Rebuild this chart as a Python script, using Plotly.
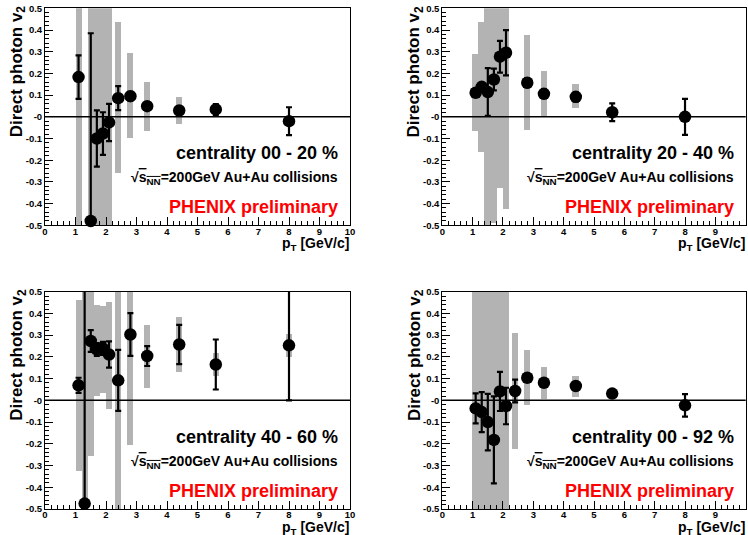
import plotly.graph_objects as go

W, H = 748, 535

# ---------------- data ----------------
titles = ["centrality 00 - 20 %", "centrality 20 - 40 %", "centrality 40 - 60 %", "centrality 00 - 92 %"]

pt_00_20 = [1.1, 1.5, 1.7, 1.9, 2.1, 2.4, 2.8, 3.35, 4.4, 5.6, 8.0]
v2_00_20 = [0.183, -0.48, -0.10, -0.077, -0.026, 0.086, 0.095, 0.049, 0.029, 0.034, -0.02]
stat_00_20 = [0.10, 0.865, 0.13, 0.098, 0.086, 0.055, 0.02, 0.015, 0.015, 0.025, 0.064]
syslo_00_20 = [-0.6, -0.6, -0.6, -0.6, -0.6, -0.262, -0.10, -0.066, -0.035, 0.015, -0.03]
syshi_00_20 = [0.6, 0.6, 0.6, 0.6, 0.6, 0.434, 0.292, 0.157, 0.092, 0.05, -0.01]

pt_20_40 = [1.1, 1.3, 1.5, 1.7, 1.9, 2.1, 2.8, 3.35, 4.4, 5.6, 8.0]
v2_20_40 = [0.111, 0.138, 0.114, 0.172, 0.277, 0.295, 0.157, 0.106, 0.092, 0.021, 0.0]
stat_20_40 = [0.015, 0.015, 0.11, 0.05, 0.073, 0.104, 0.02, 0.02, 0.022, 0.041, 0.083]
syslo_20_40 = [-0.066, -0.163, -0.6, -0.49, -0.33, -0.425, -0.062, 0.0, 0.038, 0.0, -0.01]
syshi_20_40 = [0.288, 0.437, 0.6, 0.6, 0.6, 0.6, 0.377, 0.21, 0.149, 0.04, 0.01]

pt_40_60 = [1.1, 1.3, 1.5, 1.7, 1.9, 2.1, 2.4, 2.8, 3.35, 4.4, 5.6, 8.0]
v2_40_60 = [0.069, -0.475, 0.273, 0.234, 0.239, 0.211, 0.092, 0.303, 0.204, 0.257, 0.165, 0.253]
stat_40_60 = [0.035, 1.0, 0.05, 0.03, 0.03, 0.06, 0.14, 0.098, 0.046, 0.09, 0.115, 0.253]
syslo_40_60 = [-0.323, -0.6, -0.256, 0.023, 0.035, -0.038, -0.6, -0.202, 0.058, 0.132, 0.112, 0.2]
syshi_40_60 = [0.461, 0.6, 0.6, 0.441, 0.436, 0.452, 0.6, 0.6, 0.349, 0.383, 0.219, 0.306]

pt_00_92 = [1.1, 1.3, 1.5, 1.7, 1.9, 2.1, 2.4, 2.8, 3.35, 4.4, 5.6, 8.0]
v2_00_92 = [-0.037, -0.054, -0.10, -0.182, 0.041, -0.026, 0.043, 0.104, 0.081, 0.066, 0.031, -0.023]
stat_00_92 = [0.069, 0.092, 0.13, 0.20, 0.09, 0.084, 0.052, 0.015, 0.015, 0.015, 0.01, 0.052]
syslo_00_92 = [-0.6, -0.6, -0.6, -0.6, -0.6, -0.6, -0.222, -0.018, 0.008, 0.017, 0.015, -0.04]
syshi_00_92 = [0.6, 0.6, 0.6, 0.6, 0.6, 0.6, 0.311, 0.231, 0.155, 0.115, 0.045, -0.005]

x_ticks = [0, 1, 2, 3, 4, 5, 6, 7, 8, 9, 10]
y_ticks = [0.5, 0.4, 0.3, 0.2, 0.1, 0.0, -0.1, -0.2, -0.3, -0.4, -0.5]
y_ticktext = ["0.5", "0.4", "0.3", "0.2", "0.1", "-0", "-0.1", "-0.2", "-0.3", "-0.4", "-0.5"]

panels = [
    (pt_00_20, v2_00_20, stat_00_20, syslo_00_20, syshi_00_20),
    (pt_20_40, v2_20_40, stat_20_40, syslo_20_40, syshi_20_40),
    (pt_40_60, v2_40_60, stat_40_60, syslo_40_60, syshi_40_60),
    (pt_00_92, v2_00_92, stat_00_92, syslo_00_92, syshi_00_92),
]

# ---------------- layout geometry (pixels) ----------------
boxes = [  # left, right, top, bottom
    (45, 350, 8.3, 225.3),
    (442.3, 745.7, 8.3, 225.3),
    (45, 350, 291.7, 509.0),
    (442.3, 745.7, 291.7, 509.0),
]

def px(x):
    return x / W

def py(y):
    return 1 - y / H

FONT = "Liberation Sans, Arial, Helvetica, sans-serif"
GRAY = "#b3b3b3"

fig = go.Figure()
layout = dict(
    width=W, height=H, margin=dict(l=0, r=0, t=0, b=0, autoexpand=False),
    paper_bgcolor="white", plot_bgcolor="white", showlegend=False,
    font=dict(family=FONT, color="black"),
    bargap=0, barmode="overlay",
)
annotations = []
shapes = []

for i, (pt, v2, st, slo, shi) in enumerate(panels):
    n = "" if i == 0 else str(i + 1)
    xa, ya = "x" + n, "y" + n
    L, R, T, B = boxes[i]
    # systematic bands
    fig.add_trace(go.Bar(
        x=pt, y=[h - l for l, h in zip(slo, shi)], base=slo, width=0.2,
        marker=dict(color=GRAY, line=dict(width=0)),
        xaxis=xa, yaxis=ya, hoverinfo="skip",
    ))
    # statistical error bars (clipped)
    fig.add_trace(go.Scatter(
        x=pt, y=v2, mode="markers",
        marker=dict(size=1, color="rgba(0,0,0,0)"),
        error_y=dict(type="data", array=st, symmetric=True, color="black",
                     thickness=2.2, width=3),
        xaxis=xa, yaxis=ya, cliponaxis=True, hoverinfo="skip",
    ))
    # markers
    fig.add_trace(go.Scatter(
        x=pt, y=v2, mode="markers",
        marker=dict(size=12.5, color="black", line=dict(width=0)),
        xaxis=xa, yaxis=ya, cliponaxis=False,
    ))
    layout["xaxis" + n] = dict(
        domain=[px(L), px(R)], anchor=ya, range=[0, 10], automargin=False,
        showline=True, mirror=True, linecolor="black", linewidth=1,
        showgrid=False, zeroline=False,
        ticks="inside", ticklen=8, tickwidth=1, tickcolor="black",
        tickvals=x_ticks, ticktext=[str(t) for t in x_ticks],
        ticklabelstandoff=-3,
        tickfont=dict(family=FONT, size=9.5, color="black", weight="bold"),
        minor=dict(dtick=0.2, ticks="inside", ticklen=4, tickcolor="black", showgrid=False),
    )
    layout["yaxis" + n] = dict(
        domain=[py(B), py(T)], anchor=xa, range=[-0.5, 0.5], automargin=False,
        showline=True, mirror=True, linecolor="black", linewidth=1,
        showgrid=False, zeroline=False,
        ticks="inside", ticklen=8, tickwidth=1, tickcolor="black",
        tickvals=y_ticks, ticktext=y_ticktext,
        tickfont=dict(family=FONT, size=9.5, color="black", weight="bold"),
        minor=dict(dtick=0.02, ticks="inside", ticklen=4, tickcolor="black", showgrid=False),
    )
    # zero line
    shapes.append(dict(type="line", xref=xa + " domain", yref=ya, x0=0, x1=1, y0=0, y1=0,
                       line=dict(color="black", width=1.5), layer="above"))
    # axis titles
    annotations.append(dict(
        text="<b>p<sub>T</sub> [GeV/c]</b>", x=px(R + 1), y=py(B + 8), xref="paper", yref="paper",
        xanchor="right", yanchor="top", showarrow=False,
        font=dict(family=FONT, size=14, color="black"),
    ))
    annotations.append(dict(
        text="<b>Direct photon v<sub>2</sub></b>", x=px(L - 27), y=py(T - 5), xref="paper", yref="paper",
        xanchor="center", yanchor="top", textangle=-90, showarrow=False,
        font=dict(family=FONT, size=17, color="black"),
    ))
    # labels
    annotations.append(dict(
        text="<b>" + titles[i] + "</b>", x=px(R - 10), y=py(T + 145), xref="paper", yref="paper",
        xanchor="right", yanchor="middle", showarrow=False,
        font=dict(family=FONT, size=18, color="black"),
    ))
    annotations.append(dict(
        text="<b>√<span style='text-decoration:overline'>s<sub>NN</sub></span>=200GeV Au+Au collisions</b>",
        x=px(R - 10), y=py(T + 170), xref="paper", yref="paper",
        xanchor="right", yanchor="middle", showarrow=False,
        font=dict(family=FONT, size=14, color="black"),
    ))
    annotations.append(dict(
        text="<b>PHENIX preliminary</b>", x=px(R - 10), y=py(T + 199), xref="paper", yref="paper",
        xanchor="right", yanchor="middle", showarrow=False,
        font=dict(family=FONT, size=18, color="#ff0000"),
    ))

layout["annotations"] = annotations
layout["shapes"] = shapes
fig.update_layout(**layout)
fig.write_html("out.html", config={"displayModeBar": False},
               post_script="document.body.style.margin='0';")
